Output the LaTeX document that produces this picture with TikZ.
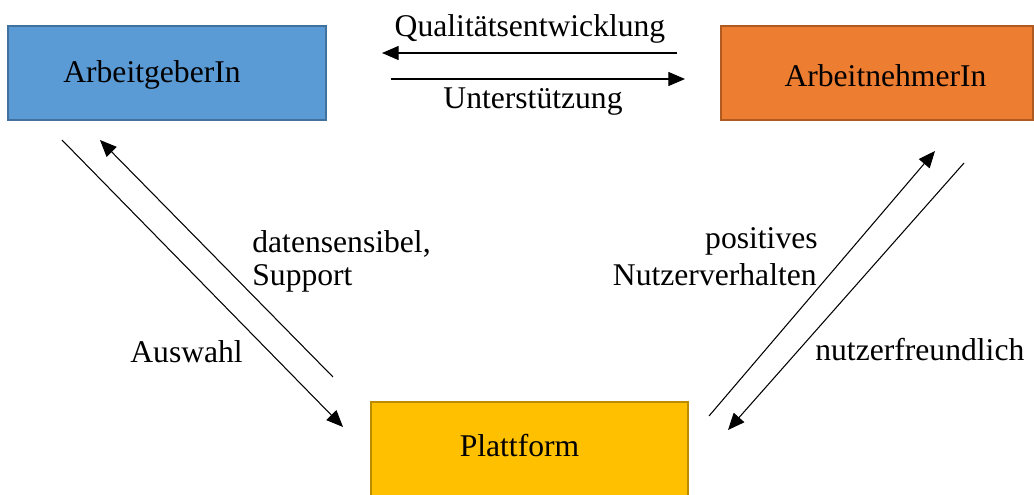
\documentclass[tikz,border=0pt]{standalone}
\usepackage{fontspec}
\setmainfont{Liberation Serif}
\usetikzlibrary{arrows.meta,positioning}
\usepackage{xcolor}
\definecolor{Blau}{HTML}{5B9BD5}
\definecolor{BlauRand}{HTML}{41719C}
\definecolor{Orange}{HTML}{ED7D31}
\definecolor{OrangeRand}{HTML}{AE5A21}
\definecolor{Gold}{HTML}{FFC000}
\definecolor{GoldRand}{HTML}{BC8C00}
\tikzset{
  akteur/.style={draw=#1Rand,fill=#1,line width=1.1pt,minimum height=94*0.02cm,inner sep=0pt},
  pfeil/.style={line width=0.6pt,-{Triangle[length=9.5pt,width=8pt]}},
  beschr/.style={inner sep=0pt,align=left}
}
\begin{document}
\begin{tikzpicture}[x=0.02cm,y=-0.02cm,font=\fontsize{18}{21}\selectfont]
    \useasboundingbox (0,0) rectangle (1034,494);
    % die drei Akteure
    \node[akteur=Blau,minimum width=318*0.02cm] (ag) at (167,73) {};
    \node[akteur=Orange,minimum width=312*0.02cm] (an) at (877,73) {};
    \node[akteur=Gold,minimum width=317*0.02cm] (pf) at (529.5,449) {};
    \node[anchor=base] (agtxt) at (152,82) {ArbeitgeberIn};
    \node[anchor=base] (antxt) at (885.5,86) {ArbeitnehmerIn};
    \node[anchor=base] (pftxt) at (519.5,456) {Plattform};
    % Endpunkte der Pfeile
    \coordinate (q1) at (677,53);  \coordinate (q2) at (382,53);
    \coordinate (u1) at (391,79);  \coordinate (u2) at (685,79);
    \coordinate (a1) at (62,140);  \coordinate (a2) at (343,427);
    \coordinate (d1) at (333,377); \coordinate (d2) at (100,140);
    \coordinate (p1) at (709,416); \coordinate (p2) at (935,151);
    \coordinate (n1) at (964,163); \coordinate (n2) at (728,430);
    \draw[pfeil] (q1) -- (q2);
    \draw[pfeil] (u1) -- (u2);
    \draw[pfeil] (a1) -- (a2);
    \draw[pfeil] (d1) -- (d2);
    \draw[pfeil] (p1) -- (p2);
    \draw[pfeil] (n1) -- (n2);
    % Beschriftungen
    \node[beschr,anchor=base] (qual) at (530,36) {Qualitätsentwicklung};
    \node[beschr,anchor=base] (unter) at (533,108) {Unterstützung};
    \node[beschr,anchor=base west] (daten) at (252,252) {datensensibel,};
    \node[beschr,anchor=base west] (supp) at (252,285) {Support};
    \node[beschr,anchor=base west] (ausw) at (130,362) {Auswahl};
    \node[beschr,anchor=base east] (posi) at (818,248) {positives};
    \node[beschr,anchor=base east] (nutz) at (817,285) {Nutzerverhalten};
    \node[beschr,anchor=base west] (freu) at (815,360) {nutzerfreundlich};
\end{tikzpicture}
\end{document}
